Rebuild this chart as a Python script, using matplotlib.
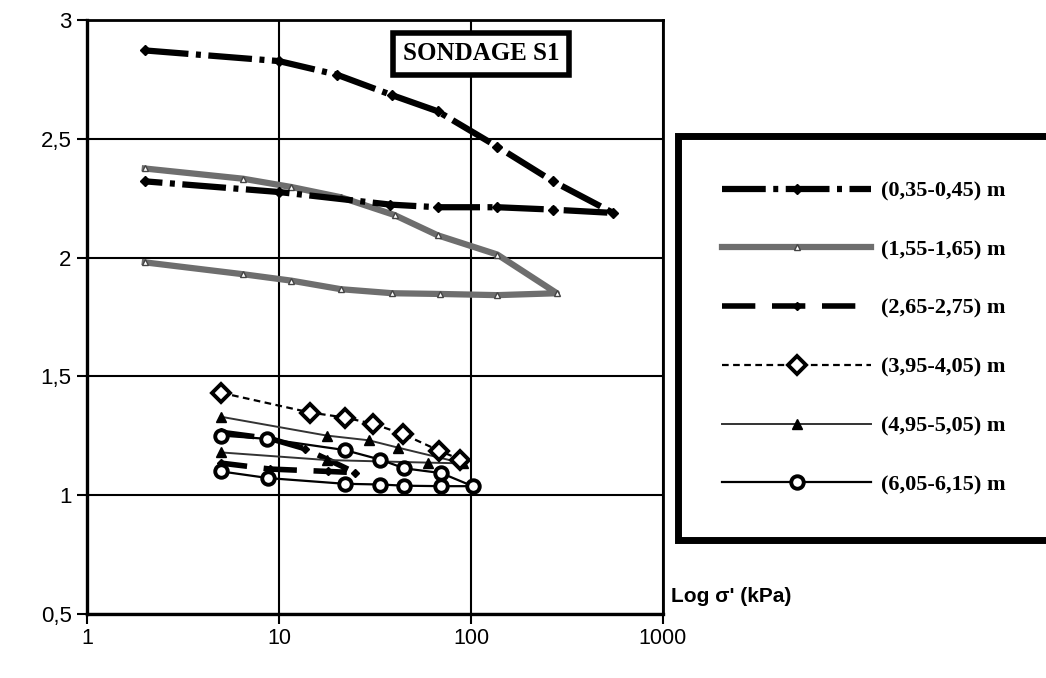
import matplotlib
matplotlib.use("Agg")
import matplotlib.pyplot as plt
from matplotlib.ticker import FixedLocator, FuncFormatter, NullLocator

# ---- data (effective stress kPa, void ratio) ----
s1_x = [2, 10, 20, 39, 67, 137, 266, 550, 266, 137, 67, 38, 10, 2]
s1_y = [2.872, 2.827, 2.77, 2.683, 2.616, 2.467, 2.322, 2.188, 2.202, 2.212, 2.212, 2.223, 2.276, 2.321]

s2_x = [2, 6.5, 11.6, 21, 40, 67, 137, 280, 137, 69, 39, 21, 11.6, 6.5, 2]
s2_y = [2.375, 2.332, 2.297, 2.254, 2.179, 2.094, 2.013, 1.85, 1.842, 1.847, 1.85, 1.867, 1.903, 1.93, 1.98]

s3_x = [5, 9, 13.6, 25, 18, 9, 5]
s3_y = [1.265, 1.238, 1.196, 1.095, 1.10, 1.11, 1.135]

s4_x = [5, 14.5, 22, 31, 44, 68, 88]
s4_y = [1.431, 1.348, 1.327, 1.30, 1.258, 1.188, 1.15]

s5_x = [5, 17.7, 29.4, 41.8, 91, 60, 17.7, 5]
s5_y = [1.33, 1.251, 1.231, 1.2, 1.134, 1.137, 1.148, 1.18]

s6_x = [5, 8.7, 22, 33.6, 45, 70, 102, 70, 45, 33.6, 22, 8.8, 5]
s6_y = [1.251, 1.237, 1.19, 1.15, 1.113, 1.093, 1.038, 1.038, 1.04, 1.045, 1.048, 1.072, 1.10]

labels = ["(0,35-0,45) m", "(1,55-1,65) m", "(2,65-2,75) m",
          "(3,95-4,05) m", "(4,95-5,05) m", "(6,05-6,15) m"]

x_ticks = [1, 10, 100, 1000]
y_ticks = [0.5, 1, 1.5, 2, 2.5, 3]

fig = plt.figure(figsize=(10.46, 6.78), dpi=100)
ax = fig.add_axes([87/1046, 64/678, 576/1046, 594/678])

ax.set_xscale("log")
ax.set_xlim(1, 1000)
ax.set_ylim(0.5, 3)

l1, = ax.plot(s1_x, s1_y, color="black", lw=4.5, linestyle=(0, (7, 1.2, 0.8, 1.2)),
              marker="D", ms=5, mfc="black", mec="black", label=labels[0], zorder=5)
l2, = ax.plot(s2_x, s2_y, color="#6e6e6e", lw=4.5, linestyle="-",
              marker="^", ms=5, mfc="white", mec="#444444", mew=1, label=labels[1], zorder=4)
l3, = ax.plot(s3_x, s3_y, color="black", lw=4, linestyle=(0, (6, 3)),
              marker="D", ms=4, mfc="black", mec="black", label=labels[2], zorder=5)
l4, = ax.plot(s4_x, s4_y, color="black", lw=1.6, linestyle=(0, (3, 2)),
              marker="D", ms=9, mfc="white", mec="black", mew=2.8, label=labels[3], zorder=6)
l5, = ax.plot(s5_x, s5_y, color="#333333", lw=1.4, linestyle="-",
              marker="^", ms=6.5, mfc="black", mec="black", label=labels[4], zorder=5)
l6, = ax.plot(s6_x, s6_y, color="black", lw=1.6, linestyle="-",
              marker="o", ms=9, mfc="white", mec="black", mew=2.8, label=labels[5], zorder=6)

# axes styling
ax.xaxis.set_major_locator(FixedLocator(x_ticks))
ax.xaxis.set_minor_locator(NullLocator())
ax.yaxis.set_major_locator(FixedLocator(y_ticks))
ax.xaxis.set_major_formatter(FuncFormatter(lambda v, p: f"{v:g}"))
ax.yaxis.set_major_formatter(FuncFormatter(lambda v, p: f"{v:g}".replace(".", ",")))
ax.grid(True, color="black", lw=1.5)
ax.set_axisbelow(True)
for s in ["left", "bottom"]:
    ax.spines[s].set_linewidth(2.4)
for s in ["top", "right"]:
    ax.spines[s].set_linewidth(2)
    ax.spines[s].set_color("black")
ax.tick_params(axis="both", direction="out", length=7, width=1.5)
ax.tick_params(axis="y", pad=4, labelsize=16)
ax.tick_params(axis="x", pad=3, labelsize=15.5)
for t in ax.get_xticklabels():
    t.set_family(["Liberation Sans Narrow", "Liberation Sans", "DejaVu Sans"])
for t in ax.get_yticklabels():
    t.set_family(["Liberation Sans", "DejaVu Sans"])

# x axis label to the right
ax.text(1.014, 0.03, "Log σ' (kPa)", transform=ax.transAxes, ha="left", va="center",
        fontsize=15, fontweight="bold",
        family=["Liberation Sans Narrow", "Liberation Sans", "DejaVu Sans"])

# title box
ax.text(0.684, 0.943, "SONDAGE S1", transform=ax.transAxes, ha="center", va="center",
        fontsize=18, fontweight="bold", family=["Liberation Serif", "DejaVu Serif"],
        bbox=dict(boxstyle="square,pad=0.38", fc="white", ec="black", lw=4), zorder=10)

# legend
leg = fig.legend(handles=[l1, l2, l3, l4, l5, l6], loc="center left",
                 bbox_to_anchor=(678/1046, (678-338)/678),
                 prop=dict(family="Liberation Serif", weight="bold", size=16),
                 numpoints=1, handlelength=6.7, handletextpad=0.45,
                 labelspacing=1.72, borderpad=2.0, borderaxespad=0,
                 frameon=True, fancybox=False, framealpha=1)
leg.get_frame().set_edgecolor("black")
leg.get_frame().set_linewidth(5)

fig.savefig("out.png", dpi=100, facecolor="white")
